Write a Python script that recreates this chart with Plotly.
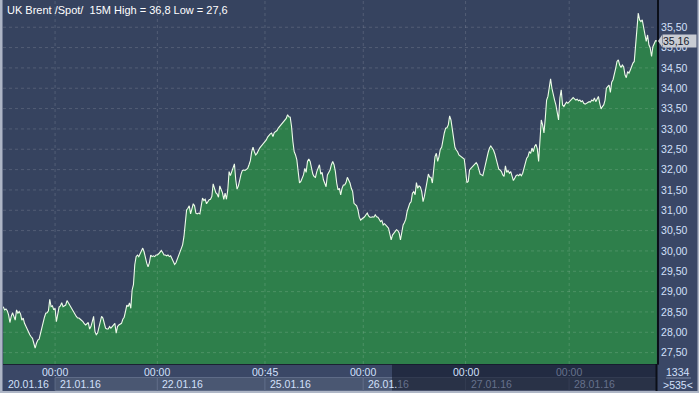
import numpy as np
import plotly.graph_objects as go

# ---------------- data ----------------
day_labels = ["20.01.16", "21.01.16", "22.01.16", "25.01.16", "26.01.16", "27.01.16", "28.01.16"]
session_open = [None, "00:00", "00:00", "00:45", "00:00", "00:00", "00:00"]
title_text = "UK Brent /Spot/\u00a0 15M High = 36,8 Low = 27,6"
bar_count = "1334"
visible_count = ">535<"
price_ticks = [27.5, 28.0, 28.5, 29.0, 29.5, 30.0, 30.5, 31.0, 31.5, 32.0, 32.5,
               33.0, 33.5, 34.0, 34.5, 35.0, 35.5]

d20 = [28.63, 28.55, 28.57, 28.53, 28.43, 28.24, 28.39, 28.48, 28.39, 28.30,
       28.55, 28.47, 28.51, 28.45, 28.30, 28.35, 28.22, 28.14, 28.08, 28.02,
       27.94, 27.89, 27.85, 27.73, 27.61, 27.73, 27.81, 27.83, 27.98, 28.06,
       28.22, 28.37, 28.47, 28.48, 28.53, 28.81, 28.63, 28.65, 28.55]
d21 = [28.59,
       28.26, 28.51, 28.62, 28.65, 28.73, 28.63, 28.65, 28.67, 28.78, 28.72,
       28.67, 28.63, 28.57, 28.51, 28.45, 28.39, 28.35, 28.35, 28.32, 28.30,
       28.26, 28.21, 28.18, 28.21, 28.24, 28.08, 28.14, 28.26, 28.39, 28.02,
       27.94, 27.98, 28.10, 28.22, 28.39, 28.35, 28.22, 28.10, 28.08, 28.08,
       28.14, 28.10, 28.14, 28.18, 28.22, 27.98, 28.14, 28.18, 28.21, 28.22,
       28.32, 28.37, 28.51, 28.67, 28.63, 28.72, 28.59, 29.04, 29.17,
       29.66, 29.86, 29.90, 29.86, 29.94, 30.03, 30.07, 29.98, 29.82, 29.70,
       29.61, 29.71, 29.90, 29.86, 29.88, 29.86, 29.90]
d22 = [29.90, 29.93, 29.96,
       30.01, 29.96, 29.90, 29.90, 29.88, 29.90, 29.86, 29.88, 29.80, 29.74,
       29.67, 29.71, 29.80, 29.90, 29.98, 30.11, 30.15, 30.35, 30.72, 31.01,
       31.05, 31.11, 30.91, 31.01, 31.16, 31.11, 30.93, 30.91, 30.93, 30.91,
       31.16, 31.30, 31.24, 31.27, 31.16, 31.21, 31.26, 31.27, 31.34, 31.65,
       31.50, 31.43, 31.40, 31.32, 31.60, 31.50, 31.43, 31.27, 31.42, 31.27,
       31.50, 31.95, 31.85, 31.95, 32.03, 32.14, 31.75, 31.52, 31.60, 31.76,
       31.89, 31.98, 31.99, 31.98, 32.01, 32.03, 32.12, 32.22, 32.44, 32.55,
       32.44, 32.36, 32.40, 32.48, 32.53, 32.57, 32.61, 32.66]
d25 = [32.69,
       32.73, 32.80, 32.85, 32.88, 32.90, 32.81, 32.91, 32.93, 32.96, 33.02,
       33.06, 33.10, 33.16, 33.18, 33.22, 33.26, 33.35, 33.30, 33.29, 33.06,
       32.69, 32.44, 32.36, 32.24, 31.95, 31.67, 31.71, 31.79, 31.87, 32.03,
       31.93, 32.20, 32.26, 32.20, 31.99, 31.89, 31.83, 31.81, 31.95, 32.03,
       32.12, 31.89, 31.93, 31.75, 31.68, 31.58, 31.87, 31.95, 31.99, 32.12,
       32.20, 32.12, 31.95, 31.67, 31.50, 31.54, 31.38, 31.54, 31.62, 31.62,
       31.68, 31.81, 31.75, 31.67, 31.54, 31.46, 31.17, 31.13, 31.11, 31.01,
       30.83, 30.76, 30.78]
d26 = [30.81, 30.84, 30.89, 30.93, 30.86, 30.83, 30.83, 30.84, 30.83, 30.89,
       30.84, 30.83, 30.78, 30.72, 30.75, 30.64, 30.67, 30.62, 30.60, 30.56,
       30.44, 30.27, 30.39,
       30.44, 30.48, 30.52, 30.50, 30.44, 30.27, 30.52, 30.64, 30.70, 30.78,
       30.97, 31.09, 31.17, 31.21, 31.42, 31.46, 31.38, 31.68, 31.54, 31.60,
       31.57, 31.46, 31.21, 31.34, 31.50, 31.67, 31.89, 31.81, 31.81, 31.67,
       32.12, 32.32, 32.40, 32.20, 32.32, 32.50, 32.55, 32.75, 32.90, 33.02,
       33.03, 33.10, 33.32, 33.22, 32.98, 32.73, 32.55, 32.48, 32.44, 32.36,
       32.34, 32.31, 32.28, 32.26]
d27 = [31.99, 31.68, 31.71, 31.99, 32.03, 32.07,
       32.09, 32.14, 32.17, 32.12, 31.99, 31.89, 31.87, 31.85, 31.99, 32.16,
       32.28, 32.42, 32.53, 32.58, 32.53, 32.48, 32.39, 32.24, 32.12, 32.01,
       31.99, 31.95, 31.87, 31.83, 32.09, 31.93, 31.98, 31.91, 31.95, 31.83,
       31.73, 31.79, 31.85, 31.87, 31.85, 31.89, 31.85,
       31.91, 32.03, 32.20, 32.28, 32.32, 32.44, 32.40, 32.53, 32.44, 32.57,
       32.62, 32.51, 32.20, 32.77, 33.22, 33.10, 32.90, 33.26, 33.71, 33.80,
       34.00, 34.23, 34.00, 33.80, 33.71, 33.59, 33.44, 33.22, 33.76, 33.96,
       33.59, 33.55, 33.61, 33.66, 33.63]
d28 = [33.67, 33.71, 33.74, 33.77, 33.74,
       33.71, 33.73, 33.69, 33.71, 33.67, 33.69, 33.63, 33.61, 33.63, 33.66,
       33.67, 33.66, 33.71, 33.69, 33.76, 33.67, 33.74, 33.80, 33.63, 33.49,
       33.55, 33.59, 33.71, 34.00, 34.04, 34.08, 33.90, 34.15, 34.21, 34.33,
       34.49, 34.66, 34.70, 34.57, 34.51, 34.57, 34.53, 34.33, 34.26, 34.41,
       34.37, 34.45, 34.57, 34.62, 34.66, 35.02, 35.48, 35.85, 35.68, 35.64,
       35.68, 35.48, 35.31, 35.15, 35.31, 35.07, 34.99, 34.78, 35.02, 35.11,
       35.17, 35.16]

days = [d20, d21, d22, d25, d26, d27, d28]
prices = [p for d in days for p in d]
idx = list(range(len(prices)))
starts = list(np.cumsum([0] + [len(d) for d in days[:-1]]))

# ---------------- geometry / style ----------------
W, H = 699, 393
L, R, T, B = 3, 42, 0, 29
PW, PH = W - L - R, H - T - B
YR = [27.22, 36.17]
XR = [-0.2, len(prices) - 1 + 0.1]

PANEL = "#3a4766"
PLOT_BG = "#36435f"
GREEN = "#2e7f4b"
LINE = "#eefbea"
LABEL = "#d3e0fb"
BORDER = "#aeb6c6"
FONT = "Liberation Sans, Arial, sans-serif"


def xp(px):
    return (px - L) / PW


def yp(py):
    return (H - B - py) / PH


fig = go.Figure()
fig.add_trace(go.Scatter(
    x=idx, y=prices, mode="lines",
    line=dict(color=LINE, width=1.1),
    fill="tozeroy", fillcolor=GREEN,
    hoverinfo="skip",
))

shapes = []
grid = dict(color="rgba(255,255,255,0.14)", width=1, dash="3px,3px")
for v in price_ticks:
    shapes.append(dict(type="line", xref="paper", yref="y", x0=0, x1=1, y0=v, y1=v,
                       line=grid, layer="above"))
for s in starts[1:]:
    shapes.append(dict(type="line", xref="x", yref="paper", x0=s, x1=s, y0=0, y1=1,
                       line=grid, layer="above"))

# date boxes in the bottom panel
bounds = starts + [XR[1]]
for i in range(1, len(days)):
    shapes.append(dict(type="rect", xref="x", yref="paper",
                       x0=bounds[i], x1=bounds[i + 1], y0=yp(390.5), y1=yp(377.5),
                       fillcolor="#4a5772", line=dict(color="#5e6b87", width=1), layer="above"))
# darker scroll overlay
shapes.append(dict(type="rect", xref="paper", yref="paper", x0=xp(392), x1=xp(656),
                   y0=yp(390.5), y1=yp(364.5), fillcolor="rgba(14,20,36,0.55)",
                   line=dict(width=0), layer="above"))
# separators
shapes.append(dict(type="line", xref="paper", yref="paper", x0=xp(656.5), x1=xp(656.5),
                   y0=yp(391), y1=yp(364), line=dict(color="#0b0f18", width=2)))
shapes.append(dict(type="line", xref="paper", yref="paper", x0=xp(666), x1=xp(691),
                   y0=yp(378), y1=yp(378), line=dict(color="#7d8aa3", width=1)))
# outer border
shapes.append(dict(type="rect", xref="paper", yref="paper", x0=xp(0), x1=xp(2.5),
                   y0=yp(H), y1=yp(0), fillcolor=BORDER, line=dict(width=0)))
shapes.append(dict(type="rect", xref="paper", yref="paper", x0=xp(0), x1=xp(W),
                   y0=yp(H), y1=yp(391), fillcolor=BORDER, line=dict(width=0)))
shapes.append(dict(type="rect", xref="paper", yref="paper", x0=xp(697.5), x1=xp(W),
                   y0=yp(H), y1=yp(0), fillcolor=BORDER, line=dict(width=0)))

# last price tag arrow
last = prices[-1]
dy = 6 * (YR[1] - YR[0]) / PH
shapes.append(dict(type="path", xref="paper", yref="y",
                   path=f"M {xp(658)},{last} L {xp(662)},{last + dy} L {xp(662)},{last - dy} Z",
                   fillcolor="#c8ccd3", line=dict(width=0)))

annotations = [
    dict(text=title_text, xref="paper", yref="paper", x=xp(5), y=yp(10),
         xanchor="left", yanchor="middle", showarrow=False,
         font=dict(family=FONT, size=11, color="#ffffff")),
    dict(text=f"{last:.2f}".replace(".", ","), xref="paper", yref="y", x=xp(662), y=last,
         xanchor="left", yanchor="middle", showarrow=False, bgcolor="#c8ccd3",
         width=33, height=12, borderpad=0, align="left",
         font=dict(family=FONT, size=10.5, color="#151a2b")),
    dict(text=bar_count, xref="paper", yref="paper", x=xp(678), y=yp(371.5),
         xanchor="center", yanchor="middle", showarrow=False,
         font=dict(family=FONT, size=10.5, color=LABEL)),
    dict(text=visible_count, xref="paper", yref="paper", x=xp(678), y=yp(384.5),
         xanchor="center", yanchor="middle", showarrow=False,
         font=dict(family=FONT, size=10.5, color=LABEL)),
]

DIM = "#66718c"
for i, (lab, t) in enumerate(zip(day_labels, session_open)):
    x0 = starts[i]
    dim = x0 > 300
    if i == 4:
        txt = "26.01.<span style='color:%s'>16</span>" % DIM
        col = LABEL
    else:
        txt = lab
        col = DIM if dim else LABEL
    annotations.append(dict(text=txt, xref="x", yref="paper", x=max(x0, XR[0]), y=yp(384),
                            xanchor="left", yanchor="middle", xshift=3, showarrow=False,
                            font=dict(family=FONT, size=10.5, color=col)))
    if t is not None:
        tcol = DIM if x0 > 400 else LABEL
        annotations.append(dict(text=t, xref="x", yref="paper", x=x0, y=yp(371.5),
                                xanchor="center", yanchor="middle", showarrow=False,
                                font=dict(family=FONT, size=10.5, color=tcol)))

fig.update_layout(
    width=W, height=H,
    margin=dict(l=L, r=R, t=T, b=B, pad=0),
    paper_bgcolor=PANEL, plot_bgcolor=PLOT_BG,
    showlegend=False, separators=", ",
    font=dict(family=FONT, size=11, color=LABEL),
    shapes=shapes, annotations=annotations,
    xaxis=dict(range=XR, showgrid=False, zeroline=False, showticklabels=False,
               ticks="", showline=True, linecolor="#1b2233", linewidth=1, fixedrange=True),
    yaxis=dict(range=YR, side="right", showgrid=False, zeroline=False,
               tickvals=price_ticks, tickformat=".2f", ticks="",
               showline=True, linecolor="#0b0f18", linewidth=2,
               tickfont=dict(family=FONT, size=10.5, color=LABEL), fixedrange=True),
)

fig.write_html("out.html", config={"displayModeBar": False},
               post_script="document.body.style.margin='0px';document.body.style.overflow='hidden';")
